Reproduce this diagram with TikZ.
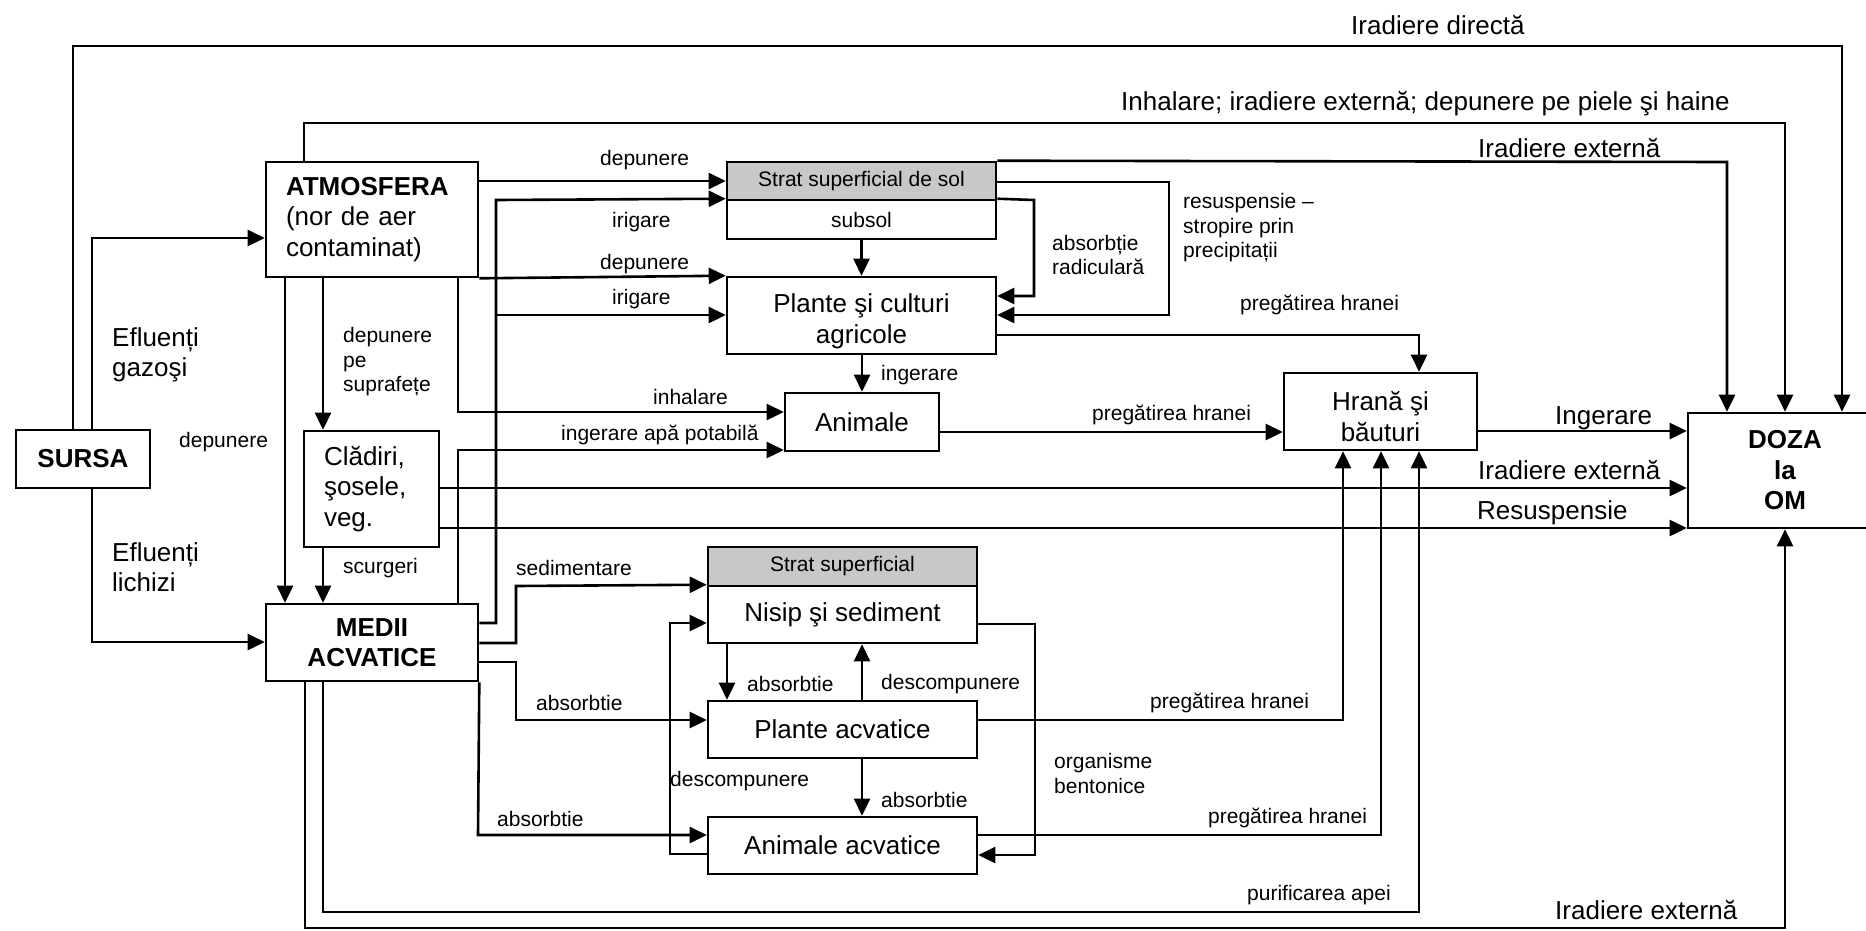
\documentclass[tikz,border=0pt]{standalone}
\usepackage{fontspec}
\setmainfont{Liberation Sans}
\usetikzlibrary{arrows.meta}
\definecolor{stratgray}{RGB}{200,200,200}
\begin{document}
\begin{tikzpicture}[x=1pt,y=-1pt,
  arr/.style={line width=2.6pt,-{Triangle[length=17pt,width=16pt]}},
  box/.style={draw,line width=2.6pt,inner sep=0pt,font=\fontsize{26}{30.5}\selectfont,align=center},
  bbox/.style={box,font=\fontsize{26}{30.5}\selectfont\bfseries},
  sbox/.style={box,font=\fontsize{21}{25}\selectfont},
  btxt/.style={inner sep=0pt,font=\fontsize{26}{30.5}\selectfont,align=center},
  lbl/.style={inner sep=0pt,anchor=west,font=\fontsize{21}{24.5}\selectfont,align=left},
  big/.style={inner sep=0pt,anchor=west,font=\fontsize{26}{30}\selectfont,align=left},
]
\useasboundingbox (0,0) rectangle (1866,930);
\fill[white] (0,0) rectangle (1866,930);

% boxes
\node[bbox,minimum width=134pt,minimum height=58pt] (sursa) at (83,459) {SURSA};
\node[box,minimum width=212pt,minimum height=115pt,text width=172pt,align=left] (atm) at (372,219.5) {\textbf{ATMOSFERA}\\(nor de aer\\contaminat)};
\node[box,minimum width=135pt,minimum height=116pt,text width=95pt,align=left] (cladiri) at (371.5,489) {Clădiri,\\şosele,\\veg.};
\node[bbox,minimum width=212pt,minimum height=77pt] (medii) at (372,642.5) {MEDII\\ACVATICE};
\node[sbox,fill=stratgray,minimum width=269pt,minimum height=38pt] (stratsol) at (861.5,181) {Strat superficial de sol};
\node[sbox,minimum width=269pt,minimum height=39pt] (subsol) at (861.5,219.5) {subsol};
\node[box,minimum width=269pt,minimum height=77pt] (plante) at (861.5,315.5) {};
\node[btxt] (plantetxt) at ([yshift=-6pt]plante.center) {Plante şi culturi\\agricole};
\node[box,minimum width=154pt,minimum height=58pt] (animale) at (862,422) {Animale};
\node[box,minimum width=193pt,minimum height=77pt] (hrana) at (1380.5,411.5) {};
\node[btxt] (hranatxt) at ([yshift=-5pt]hrana.center) {Hrană şi\\băuturi};
\node[bbox,minimum width=194pt,minimum height=115pt] (doza) at (1785,470.5) {DOZA\\la\\OM};
\node[sbox,fill=stratgray,minimum width=269pt,minimum height=39pt] (stratapa) at (842.5,566.5) {Strat superficial};
\node[box,minimum width=269pt,minimum height=57pt] (nisip) at (842.5,614.5) {Nisip şi sediment};
\node[box,minimum width=269pt,minimum height=57pt] (planteacv) at (842.5,729.5) {Plante acvatice};
\node[box,minimum width=269pt,minimum height=57pt] (animaleacv) at (842.5,845.5) {Animale acvatice};

% long paths to DOZA
\draw[arr] (sursa.north -| 73,0) -- (73,46) -- (1842,46) -- (doza.north -| 1842,0);
\draw[arr] (atm.north -| 304,0) -- (304,123) -- (1785,123) -- (doza.north -| 1785,0);
\draw[arr] (stratsol.north east) -- (1727,162) -- (doza.north -| 1727,0);

% SURSA
\draw[arr] (sursa.north -| 92,0) |- (atm.west |- 0,238);
\draw[arr] (sursa.south -| 92,0) |- (medii.west |- 0,642);

% ATMOSFERA outputs
\draw[arr] (atm.east |- 0,181) -- (stratsol.west |- 0,181);
\draw[arr] (atm.south east) -- (plante.north west);
\draw[arr] (atm.south -| 285,0) -- (medii.north -| 285,0);
\draw[arr] (atm.south -| 323,0) -- (cladiri.north -| 323,0);
\draw[arr] (atm.south -| 458,0) |- (animale.west |- 0,412);

% irigare
\draw[arr] (medii.east |- 0,623) -- (496,623) -- (496,200) -- (subsol.north west);
\draw[arr] (496,315) -- (plante.west |- 0,315);

% soil
\draw[arr] (subsol.south) -- (plante.north);
\draw[arr] (subsol.north east) -- (1034,200) -- (1034,296) -- (plante.east |- 0,296);
\draw[arr] (stratsol.east |- 0,182) -- (1169,182) -- (1169,315) -- (plante.east |- 0,315);
\draw[arr] (plante.east |- 0,335) -| (hrana.north -| 1419,0);
\draw[arr] (plante.south -| animale.north) -- (animale.north);

% Animale
\draw[arr] (medii.north -| 458,0) |- (animale.west |- 0,450);
\draw[arr] (animale.east |- 0,432) -- (hrana.west |- 0,432);
\draw[arr] (hrana.east |- 0,431) -- (doza.west |- 0,431);

% Cladiri
\draw[arr] (cladiri.south -| 323,0) -- (medii.north -| 323,0);
\draw[arr] (cladiri.east |- 0,488) -- (doza.west |- 0,488);
\draw[arr] (cladiri.east |- 0,528) -- (doza.west |- 0,528);

% water
\draw[arr] (medii.east |- 0,643) -- (516,643) -- (516,586) -- (nisip.north west);
\draw[arr] (medii.east |- 0,662) -- (516,662) -- (516,720) -- (planteacv.west |- 0,720);
\draw[arr] (medii.south east) -- (478,835) -- (animaleacv.west |- 0,835);
\draw[arr] (animaleacv.west |- 0,854) -- (670,854) -- (670,623) -- (nisip.west |- 0,623);
\draw[arr] (nisip.east |- 0,624) -- (1035,624) -- (1035,855) -- (animaleacv.east |- 0,855);
\draw[arr] (nisip.south -| 727,0) -- (planteacv.north -| 727,0);
\draw[arr] (planteacv.north -| 862,0) -- (nisip.south -| 862,0);
\draw[arr] (planteacv.south -| 862,0) -- (animaleacv.north -| 862,0);
\draw[arr] (planteacv.east |- 0,720) -| (hrana.south -| 1343,0);
\draw[arr] (animaleacv.east |- 0,835) -| (hrana.south -| 1381,0);
\draw[arr] (medii.south -| 323,0) -- (323,912) -- (1419,912) -- (hrana.south -| 1419,0);
\draw[arr] (medii.south -| 305,0) -- (305,928) -- (1785,928) -- (doza.south -| 1785,0);

% big labels
\node[big] (t1) at (1351,25) {Iradiere directă};
\node[big] (t2) at (1121,104) {Inhalare; iradiere externă; depunere pe piele şi haine};
\node[big] (t3) at (1478,148) {Iradiere externă};
\node[big] (t4) at (1555,418) {Ingerare};
\node[big] (t5) at (1478,470) {Iradiere externă};
\node[big] (t6) at (1477,513) {Resuspensie};
\node[big] (t7) at (1555,910) {Iradiere externă};
\node[big] (t8) at (112,355) {Efluenți\\gazoşi};
\node[big] (t9) at (112,567) {Efluenți\\lichizi};

% small labels
\node[lbl] (s1) at (600,160) {depunere};
\node[lbl] (s2) at (612,222) {irigare};
\node[lbl] (s3) at (600,264) {depunere};
\node[lbl] (s4) at (612,299) {irigare};
\node[lbl] (s5) at (653,397) {inhalare};
\node[lbl] (s6) at (561,435) {ingerare apă potabilă};
\node[lbl] (s7) at (881,375) {ingerare};
\node[lbl] (s8) at (1092,415) {pregătirea hranei};
\node[lbl] (s9) at (1240,305) {pregătirea hranei};
\node[lbl] (s10) at (1052,255) {absorbție\\radiculară};
\node[lbl] (s11) at (1183,228) {resuspensie –\\stropire prin\\precipitații};
\node[lbl] (s12) at (179,442) {depunere};
\node[lbl] (s13) at (343,362) {depunere\\pe\\suprafețe};
\node[lbl] (s14) at (343,568) {scurgeri};
\node[lbl] (s15) at (516,568) {sedimentare};
\node[lbl] (s16) at (536,703) {absorbtie};
\node[lbl] (s17) at (497,819) {absorbtie};
\node[lbl] (s18) at (747,684) {absorbtie};
\node[lbl] (s19) at (881,684) {descompunere};
\node[lbl] (s20) at (670,781) {descompunere};
\node[lbl] (s21) at (881,800) {absorbtie};
\node[lbl] (s22) at (1054,773.5) {organisme\\bentonice};
\node[lbl] (s23) at (1150,703) {pregătirea hranei};
\node[lbl] (s24) at (1208,818) {pregătirea hranei};
\node[lbl] (s25) at (1247,895) {purificarea apei};
\end{tikzpicture}
\end{document}
